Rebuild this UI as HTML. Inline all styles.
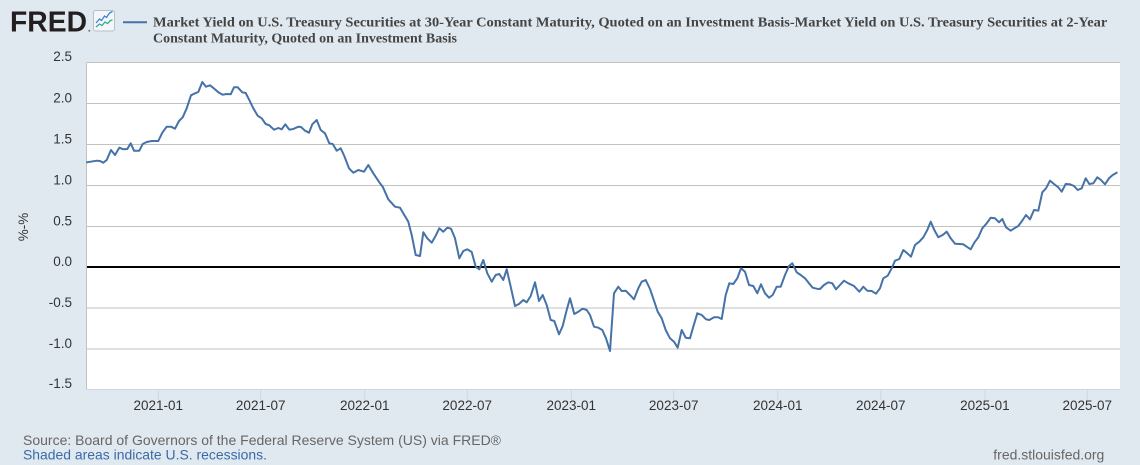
<!DOCTYPE html>
<html><head><meta charset="utf-8"><style>
html,body{margin:0;padding:0;background:#e1e9f0;}
svg{display:block;}
</style></head><body>
<svg width="1140" height="465" viewBox="0 0 1140 465" xmlns="http://www.w3.org/2000/svg">
<rect x="0" y="0" width="1140" height="465" fill="#e1e9f0"/>
<!-- logo -->
<text x="10" y="31.7" font-family="Liberation Sans, sans-serif" font-weight="bold" font-size="29" fill="#231f20" textLength="77" lengthAdjust="spacingAndGlyphs">FRED</text>
<circle cx="89.3" cy="30.8" r="1" fill="#777"/>
<rect x="93.5" y="10.5" width="21" height="20.5" rx="2" fill="#f4f7fa" stroke="#b8bfc7" stroke-width="1"/>
<polyline points="96,23 99.5,19 101.5,20.5 104.5,16 106.5,17.5 109.5,13 112.5,11.5" fill="none" stroke="#3b82d6" stroke-width="1.3"/>
<polyline points="96,27 99.5,24 102,25.5 105,22 107.5,23.5 110.5,20.5 112.5,20" fill="none" stroke="#3aaa8c" stroke-width="1.3"/>
<line x1="123" y1="22.3" x2="147" y2="22.3" stroke="#4572a7" stroke-width="2"/>
<text font-family="Liberation Serif, serif" font-weight="bold" font-size="14" fill="#444">
<tspan x="153" y="26.5" textLength="954" lengthAdjust="spacingAndGlyphs">Market Yield on U.S. Treasury Securities at 30-Year Constant Maturity, Quoted on an Investment Basis-Market Yield on U.S. Treasury Securities at 2-Year</tspan>
<tspan x="153" y="42.5" textLength="304" lengthAdjust="spacingAndGlyphs">Constant Maturity, Quoted on an Investment Basis</tspan>
</text>
<!-- plot area -->
<rect x="87" y="63" width="1033" height="326" fill="#ffffff"/>
<g stroke="#c2c2c2" stroke-width="1">
<line x1="87" y1="62.5" x2="1120" y2="62.5"/>
<line x1="87" y1="103.5" x2="1120" y2="103.5"/>
<line x1="87" y1="144.5" x2="1120" y2="144.5"/>
<line x1="87" y1="185.5" x2="1120" y2="185.5"/>
<line x1="87" y1="226.5" x2="1120" y2="226.5"/>
<line x1="87" y1="308" x2="1120" y2="308"/>
<line x1="87" y1="349" x2="1120" y2="349"/>
<line x1="86.5" y1="62.5" x2="86.5" y2="389.5"/>
</g>
<line x1="87" y1="389.5" x2="1120" y2="389.5" stroke="#ccd6eb" stroke-width="1"/>
<g stroke="#ccd6eb" stroke-width="1">
<line x1="158.3" y1="389" x2="158.3" y2="400"/>
<line x1="260.7" y1="389" x2="260.7" y2="400"/>
<line x1="364.8" y1="389" x2="364.8" y2="400"/>
<line x1="467.2" y1="389" x2="467.2" y2="400"/>
<line x1="571.3" y1="389" x2="571.3" y2="400"/>
<line x1="673.7" y1="389" x2="673.7" y2="400"/>
<line x1="777.8" y1="389" x2="777.8" y2="400"/>
<line x1="880.8" y1="389" x2="880.8" y2="400"/>
<line x1="984.9" y1="389" x2="984.9" y2="400"/>
<line x1="1087.3" y1="389" x2="1087.3" y2="400"/>
</g>
<line x1="87" y1="267" x2="1120" y2="267" stroke="#000" stroke-width="2"/>
<polyline fill="none" stroke="#4572a7" stroke-width="2" stroke-linejoin="round" stroke-linecap="round" points="
87,162.3 96.7,160.7 100,161 103.3,162.7 106.7,160 111,150 115,155 119.3,147.7 123.3,149.3 127.3,149 130.7,143.3 134,150.7 139.3,150.7 142.7,144 146.7,142 151.7,141 158.3,141 162.3,132.7 166.7,126.7 171,126.7 175,128.7 179,121 182.7,117.3 186.7,108.3 191,95.3 195,93.3 198.3,92 202.3,82 206,86.7 210,85.3 214.3,88.7 218.3,92.3 222.7,94.7 226.7,94 230.7,94.3 234,87.3 237.7,87.3 242.3,92.3 245.7,93 249.3,100 253.3,108.3 257.7,115.7 261.7,118.3 265.7,124 269.3,125.3 274,129.7 278.3,128 281.7,129.3 285.3,124.3 289.3,129.7 293.3,129 298.3,126.7 301,127 305,130.7 309,132.7 312.3,124.3 316.7,120 320.7,130 325,133.3 329.3,143.3 332.7,144 336.7,150.7 340.7,148.3 344.3,156 349,168.3 353.3,172.7 358.3,170 364,171.7 368.3,165 373.3,173.3 380,183.3
382.7,186.7 388.3,199.3 395,206.7 400,207.7 404.3,215 408.3,221.7 411.7,235 415.7,255 420,256 423.3,232.3 427.3,238.3 431.7,242.7 435.7,235.7 439.3,228.3 443.3,231.7 447.3,227.7 451,228.7 455,238.3 459.3,258.3 463.3,251 467.3,249.3 471.7,252 475.7,266.7 479.3,269.3 483.3,260 487.3,273.3 491.7,281.7 495.7,275 499.3,274 503.3,280 506.7,269.3 510.7,286.7 515,306 519,304 523.3,300 526.7,302.3 530.7,296 535,282.3 539,301 542.7,295 546.7,305 550.7,320 554.3,321 559,334.3 562.7,326 566.7,310 570,298.3 574.3,314 578.3,311.7 582.7,308.7 586.7,310 590,315 594,326.7
598.3,327.7 602.3,330 606,338.3 610,351 614,293.3 618.3,286.7 621.7,291 625.7,290.7 630,295 634,299.3 638.3,288.3 641.7,281.7 645.7,280 650,289 654,300.7 657.7,311.7 661.7,318.3 665.7,330 670,338.3 674,341.7 677.7,347.7 681.7,330 685.7,337.7 690,338.3 693.3,326.7 697.3,313.3 701.7,315 706,319.3 709.3,320 714,317.3 718.3,317.3 721.7,319 725.7,295 729.3,283.3 733.3,284 737.3,278.3 741,268.3 745,271.7 749,285 753.3,286 757.3,293.3 761,284.3 765,293.3 769,297.7 772.7,295 776.7,286.7 780.7,286.7 785,275 789,266 792.3,263.3 796.7,272.3 800.7,275 805,278.3 809,283.3 812.7,287.7 816.7,288.7 820,289 824,285 828.3,282.3 832.3,283.3 836,289.3 840,285 844,280.7 848.3,283.3
854,286 859.3,291.7 863.3,286.7 867.3,290.7 871.7,291 876,293.7 880,288.3 883.3,278.3 887.7,275.7 891.7,268.3 895,260.7 899.3,259 903.3,250 907.3,253.3 911,256.7 915,245 919.3,241.7 923.3,237.3 927.3,230 930.7,221.7 934.3,230 938.3,237.3 942.7,235 946.7,231.7 950.7,238.3 955,243.7 959.3,244 963.3,244.3 966.7,246.7 970.7,249.3 974.3,242.7 978.3,237.3 982.3,228.3 986.7,223.3 990.7,217.7 995,218.3 999,222.3 1002.3,219 1006,227.3 1010.7,230.7 1014.3,228.3 1018.3,226 1022.7,220 1026,215 1030,219.3 1034,210 1038.3,210.7 1042.3,192.3 1046,188.3 1050,180.7 1054,184 1058.3,187.3 1061.7,191.7 1065.7,184 1070,184.3 1074,186 1077.7,190 1081.7,188.3 1085.7,178.3 1089.3,184 1093.3,183.3 1097.3,177.3 1101,180 1105,184.3 1109,178.3 1112.7,175 1116.7,172.7"/>
<!-- y labels -->
<g font-family="Liberation Sans, sans-serif" font-size="13.5" fill="#333" text-anchor="end">
<text x="72" y="61">2.5</text>
<text x="72" y="102.5">2.0</text>
<text x="72" y="143.5">1.5</text>
<text x="72" y="184.5">1.0</text>
<text x="72" y="225.5">0.5</text>
<text x="72" y="266">0.0</text>
<text x="72" y="307">-0.5</text>
<text x="72" y="348">-1.0</text>
<text x="72" y="388">-1.5</text>
</g>
<text transform="translate(28,227) rotate(-90)" font-family="Liberation Sans, sans-serif" font-size="13.5" fill="#333" text-anchor="middle">%-%</text>
<!-- x labels -->
<g font-family="Liberation Sans, sans-serif" font-size="13.5" fill="#333" text-anchor="middle">
<text x="158.3" y="410">2021-01</text>
<text x="260.7" y="410">2021-07</text>
<text x="364.8" y="410">2022-01</text>
<text x="467.2" y="410">2022-07</text>
<text x="571.3" y="410">2023-01</text>
<text x="673.7" y="410">2023-07</text>
<text x="777.8" y="410">2024-01</text>
<text x="880.8" y="410">2024-07</text>
<text x="984.9" y="410">2025-01</text>
<text x="1087.3" y="410">2025-07</text>
</g>
<!-- footer -->
<text x="23" y="445" font-family="Liberation Sans, sans-serif" font-size="14" fill="#666" textLength="478" lengthAdjust="spacingAndGlyphs">Source: Board of Governors of the Federal Reserve System (US) via FRED®</text>
<text x="23" y="459.5" font-family="Liberation Sans, sans-serif" font-size="14" fill="#3a6aa8" textLength="244" lengthAdjust="spacingAndGlyphs">Shaded areas indicate U.S. recessions.</text>
<text x="993.3" y="459.5" font-family="Liberation Sans, sans-serif" font-size="14" fill="#666" textLength="111" lengthAdjust="spacingAndGlyphs">fred.stlouisfed.org</text>
</svg>
</body></html>
